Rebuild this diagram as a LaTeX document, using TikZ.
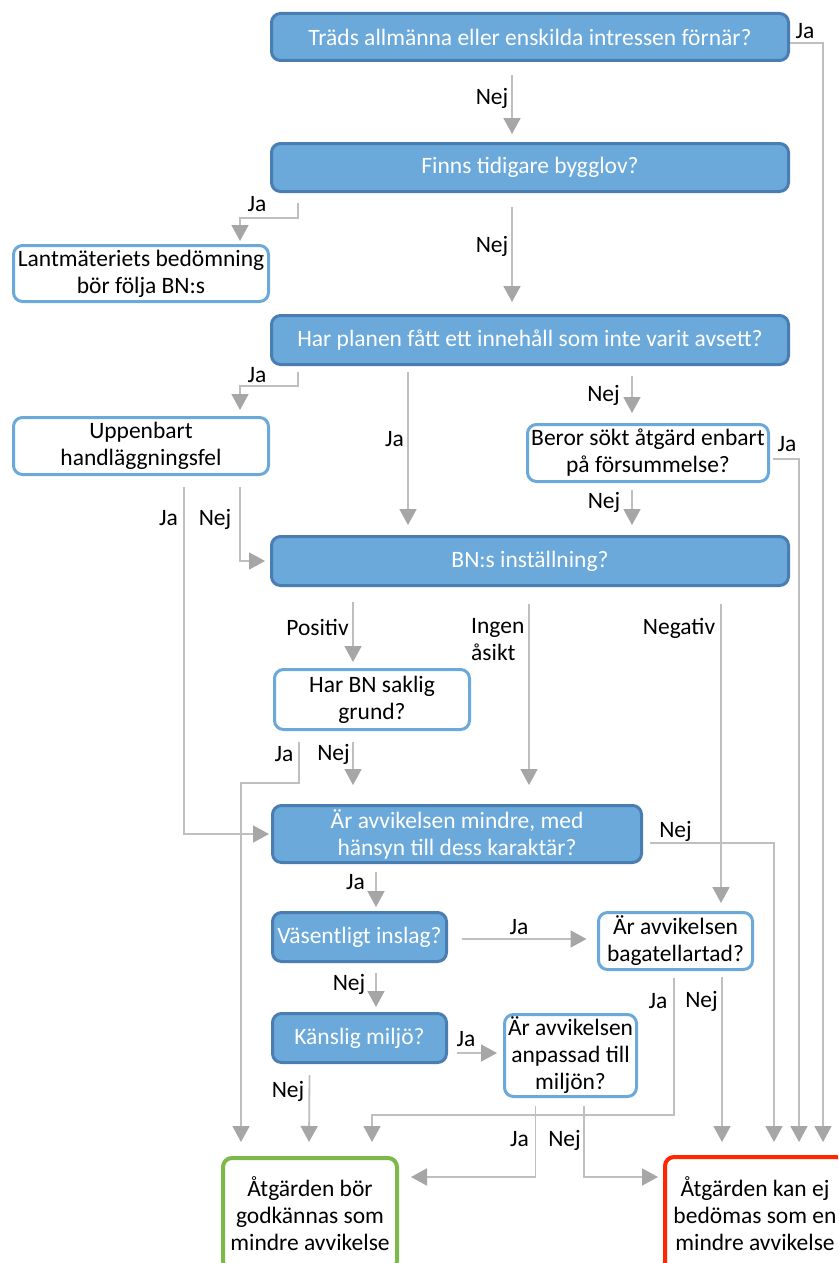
\documentclass[tikz,border=0pt]{standalone}
\usepackage{fontspec}
\setmainfont{Carlito}
\usetikzlibrary{arrows.meta}
\definecolor{qfill}{RGB}{107,169,219}
\definecolor{qdraw}{RGB}{74,126,178}
\definecolor{lblue}{RGB}{107,169,219}
\definecolor{okgreen}{RGB}{125,184,75}
\definecolor{nored}{RGB}{255,38,0}
\definecolor{linegray}{RGB}{191,191,191}
\definecolor{tipgray}{RGB}{166,166,166}
\begin{document}
\begin{tikzpicture}[x=1pt,y=-1pt,
  every node/.style={font=\fontsize{23.5}{27}\selectfont},
  basebox/.style={rounded corners=9pt, align=center, inner sep=2pt},
  qbox/.style={basebox, fill=qfill, draw=qdraw, line width=3pt, text=white},
  wbox/.style={basebox, fill=white, draw=lblue, line width=3pt},
  gbox/.style={basebox, fill=white, draw=okgreen, line width=4pt},
  rbox/.style={basebox, fill=white, draw=nored, line width=4pt},
  arr/.style={draw=linegray, line width=1.8pt, -{Triangle[width=17pt,length=16pt,color=tipgray,fill=tipgray]}},
  lbl/.style={inner sep=0pt, anchor=base},
]
\useasboundingbox (0,0) rectangle (838,1263);
\fill[white] (0,0) rectangle (838,1263);
\clip (0,0) rectangle (838,1263);

% boxes
\node[qbox, minimum width=517pt, minimum height=47pt] (q1) at (530,37) {Träds allmänna eller enskilda intressen förnär?};
\node[qbox, minimum width=517pt, minimum height=48pt] (q2) at (530,167.5) {Finns tidigare bygglov?};
\node[wbox, minimum width=255pt, minimum height=56pt] (lant) at (141,273.5) {Lantmäteriets bedömning\\bör följa BN:s};
\node[qbox, minimum width=517pt, minimum height=49pt] (q3) at (530,340) {Har planen fått ett innehåll som inte varit avsett?};
\node[wbox, minimum width=255pt, minimum height=57pt] (upp) at (141,446) {Uppenbart\\handläggningsfel};
\node[wbox, minimum width=241pt, minimum height=57pt] (beror) at (648,453) {Beror sökt åtgärd enbart\\på försummelse?};
\node[qbox, minimum width=517pt, minimum height=49pt] (bn) at (530,561) {BN:s inställning?};
\node[wbox, minimum width=195pt, minimum height=60pt] (harbn) at (372,699.5) {Har BN saklig\\grund?};
\node[qbox, minimum width=369pt, minimum height=57pt] (mindre) at (457,834) {Är avvikelsen mindre, med\\hänsyn till dess karaktär?};
\node[qbox, minimum width=174pt, minimum height=49pt] (vas) at (359.5,937) {Väsentligt inslag?};
\node[wbox, minimum width=154pt, minimum height=57pt] (bag) at (675.5,941) {Är avvikelsen\\bagatellartad?};
\node[qbox, minimum width=174pt, minimum height=49pt] (kans) at (359.5,1038) {Känslig miljö?};
\node[wbox, minimum width=132pt, minimum height=82pt] (anp) at (570.5,1055.5) {Är avvikelsen\\anpassad till\\miljön?};
\node[gbox, minimum width=174pt, minimum height=112pt] (green) at (310,1214) {Åtgärden bör\\godkännas som\\mindre avvikelse};
\node[rbox, minimum width=180pt, minimum height=114pt] (red) at (755,1214) {Åtgärden kan ej\\bedömas som en\\mindre avvikelse};

% connectors
\draw[arr] ([yshift=-6pt]q1.east) -| ([xshift=68pt,yshift=13pt]red.north);
\draw[arr] ([xshift=-18pt,yshift=-13pt]q1.south) -- ([xshift=-18pt,yshift=8pt]q2.north);
\draw[arr] ([xshift=-18pt,yshift=-14pt]q2.south) -- ([xshift=-18pt,yshift=12pt]q3.north);
\draw[arr] ([xshift=-232pt,yshift=-10pt]q2.south) -- ++(0,15) -| ([xshift=99pt,yshift=3pt]lant.north);
\draw[arr] ([xshift=-232pt,yshift=-6pt]q3.south) -- ++(0,14) -| ([xshift=99pt,yshift=6pt]upp.north);
\draw[arr] ([xshift=-122pt,yshift=-6pt]q3.south) -- ([xshift=-122pt,yshift=10pt]bn.north);
\draw[arr] ([xshift=102pt,yshift=-10pt]q3.south) -- ([xshift=-16pt,yshift=10pt]beror.north);
\draw[arr] ([xshift=-16pt,yshift=-7pt]beror.south) -- ([xshift=102pt,yshift=10pt]bn.north);
\draw[arr] ([xshift=3pt,yshift=-6pt]beror.east) -| ([xshift=44pt,yshift=13pt]red.north);
\draw[arr] ([xshift=43pt,yshift=-11pt]upp.south) |- ([xshift=-2pt]mindre.west);
\draw[arr] ([xshift=99pt,yshift=-11pt]upp.south) |- ([xshift=-5pt]bn.west);
\draw[arr] ([xshift=-177pt,yshift=-15pt]bn.south) -- ([xshift=-19pt,yshift=6pt]harbn.north);
\draw[arr] ([xshift=-1pt,yshift=-17pt]bn.south) -- ([xshift=72pt,yshift=19pt]mindre.north);
\draw[arr] ([xshift=191pt,yshift=-17pt]bn.south) -- ([xshift=45.5pt,yshift=8pt]bag.north);
\draw[arr] ([xshift=-73pt,yshift=-11pt]harbn.south) -- ++(0,41) -| ([xshift=-69pt,yshift=14pt]green.north);
\draw[arr] ([xshift=-19pt,yshift=-11pt]harbn.south) -- ([xshift=-104pt,yshift=19pt]mindre.north);
\draw[arr] ([xshift=7pt,yshift=-9pt]mindre.east) -| ([xshift=19pt,yshift=13pt]red.north);
\draw[arr] ([xshift=-81pt,yshift=-8pt]mindre.south) -- ([xshift=16.5pt,yshift=4pt]vas.north);
\draw[arr] ([xshift=14pt,yshift=-2pt]vas.east) -- ([xshift=-10.5pt,yshift=2pt]bag.west);
\draw[arr] ([xshift=16.5pt,yshift=-10pt]vas.south) -- ([xshift=16.5pt,yshift=5pt]kans.north);
\draw[arr] ([xshift=8.5pt,yshift=-15pt]kans.east) -- ([xshift=-6pt,yshift=2.5pt]anp.west);
\draw[arr] ([xshift=-50pt,yshift=-11pt]kans.south) -- ([xshift=-1pt,yshift=14pt]green.north);
\draw[arr] ([xshift=-1.5pt,yshift=-7pt]bag.south) -- ++(0,137) -| ([xshift=62pt,yshift=14pt]green.north);
\draw[arr] ([xshift=46.5pt,yshift=-6pt]bag.south) -- ([xshift=-33pt,yshift=13pt]red.north);
\draw[arr] ([xshift=-35pt,yshift=-8pt]anp.south) |- ([xshift=12pt,yshift=37pt]green.east);
\draw[arr] ([xshift=13.5pt,yshift=-8pt]anp.south) |- ([xshift=-5pt,yshift=37pt]red.west);

% labels
\node[lbl] (l1) at (805,38) {Ja};
\node[lbl] (l2) at (492,104) {Nej};
\node[lbl] (l3) at (257,211) {Ja};
\node[lbl] (l4) at (492,252) {Nej};
\node[lbl] (l5) at (257,382.5) {Ja};
\node[lbl] (l6) at (394.5,446.5) {Ja};
\node[lbl] (l7) at (603.5,401) {Nej};
\node[lbl] (l8) at (787,451.5) {Ja};
\node[lbl] (l9) at (604,508) {Nej};
\node[lbl] (l10) at (168.5,525.5) {Ja};
\node[lbl] (l11) at (215,525) {Nej};
\node[lbl] (l12) at (317.5,635.5) {Positiv};
\node[lbl, anchor=base west] (l13a) at (471,633) {Ingen};
\node[lbl, anchor=base west] (l13b) at (471,660.5) {åsikt};
\node[lbl] (l14) at (679,634) {Negativ};
\node[lbl] (l15) at (284,761) {Ja};
\node[lbl] (l16) at (333.5,760.5) {Nej};
\node[lbl] (l17) at (675.5,837) {Nej};
\node[lbl] (l18) at (355.5,889) {Ja};
\node[lbl] (l19) at (519,934) {Ja};
\node[lbl] (l20) at (349,990) {Nej};
\node[lbl] (l21) at (466,1046) {Ja};
\node[lbl] (l22) at (288,1097) {Nej};
\node[lbl] (l23) at (658,1008) {Ja};
\node[lbl] (l24) at (701.5,1007) {Nej};
\node[lbl] (l25) at (519.5,1146) {Ja};
\node[lbl] (l26) at (564.5,1146) {Nej};
\end{tikzpicture}
\end{document}
